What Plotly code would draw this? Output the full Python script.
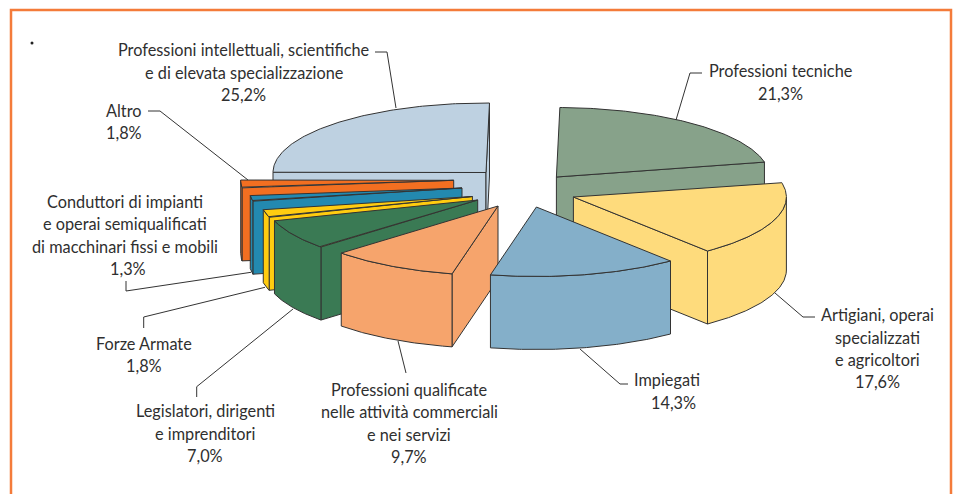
import numpy as np
import plotly.graph_objects as go

# ---- data (clockwise from the top of the pie) ----
categories = [
    "Professioni tecniche",
    "Artigiani, operai<br>specializzati<br>e agricoltori",
    "Impiegati",
    "Professioni qualificate<br>nelle attività commerciali<br>e nei servizi",
    "Legislatori, dirigenti<br>e imprenditori",
    "Forze Armate",
    "Conduttori di impianti<br>e operai semiqualificati<br>di macchinari fissi e mobili",
    "Altro",
    "Professioni intellettuali, scientifiche<br>e di elevata specializzazione",
]
values = [21.3, 17.6, 14.3, 9.7, 7.0, 1.8, 1.3, 1.8, 25.2]
colors = ["#87A28A", "#FEDB7C", "#84AFC9", "#F6A46C", "#3A7A54",
          "#FFCC10", "#2389B0", "#F26F21", "#BED1E1"]

# ---- layout of the exploded 3-D pie ----
start_deg = 0.94
centre = (524.4, 191.0)
rx, ry, depth = 213.0, 69.5, 73.0
pull_x = [32, 49, 12, -26.4, -46.7, -52, -62.4, -70.7, -38.4]
pull_y = [-14, 6, 16, 15, 9, 5.5, -3, -10.7, -18.5]
paint_order = [8, 0, 1, 7, 6, 5, 4, 3, 2]
label_x = [780, 877, 666.5, 409, 205, 143.5, 125, 124, 243.5]
label_y = [81.8, 348.2, 390.8, 422.8, 433.3, 354.3, 234.8, 121.3, 72.3]
pct_dx = [0, 0, 6.5, 0, 0, 0, 2.5, 0, 0]
line_step = 22.4
leaders = [
    ([702, 690, 676], [73, 73, 120]),
    ([815, 803, 775], [317, 317, 293]),
    ([628, 620, 580], [384, 384, 349]),
    ([406, 398], [373, 341]),
    ([196.7, 196.7, 293], [397, 386.7, 309]),
    ([143.7, 143.7, 265], [328, 317, 287.3]),
    ([126, 126, 251], [281, 291, 272.3]),
    ([148, 160, 248], [111, 111, 180]),
    ([375, 387, 396], [52, 52, 108]),
]
FONT = "Lato"
FONT_SIZE = 16.3
TXT = "#2f2f2f"
EDGE = "#333333"

fig = go.Figure()


def face(xs, ys, color):
    fig.add_trace(go.Scatter(
        x=list(xs), y=list(ys), mode="lines", fill="toself", fillcolor=color,
        line=dict(color=EDGE, width=1), hoverinfo="skip", showlegend=False))


edges = start_deg + np.cumsum([0] + values) * 3.6
for i in paint_order:
    a0, a1 = edges[i], edges[i + 1]
    ax, ay = centre[0] + pull_x[i], centre[1] + pull_y[i]
    px = lambda d: ax + rx * np.sin(np.radians(d))
    py = lambda d: ay - ry * np.cos(np.radians(d))

    # radial walls that face the viewer
    for a, visible in ((a0, np.sin(np.radians(a0)) < 0), (a1, np.sin(np.radians(a1)) > 0)):
        if visible:
            face([ax, px(a), px(a), ax, ax],
                 [ay, py(a), py(a) + depth, ay + depth, ay], colors[i])

    # curved outer wall
    lo, hi = max(a0, 90), min(a1, 270)
    if hi > lo:
        t = np.linspace(lo, hi, 80)
        xs = np.concatenate([px(t), px(t[::-1]), px(t[:1])])
        ys = np.concatenate([py(t), py(t[::-1]) + depth, py(t[:1])])
        face(xs, ys, colors[i])

    # top face
    t = np.linspace(a0, a1, 120)
    face(np.concatenate([[ax], px(t), [ax]]),
         np.concatenate([[ay], py(t), [ay]]), colors[i])

# leader lines
for lx, ly in leaders:
    fig.add_trace(go.Scatter(x=lx, y=ly, mode="lines", line=dict(color=EDGE, width=1),
                             hoverinfo="skip", showlegend=False))

# stray dot of the original
fig.add_trace(go.Scatter(x=[32], y=[43], mode="markers",
                         marker=dict(color="#222222", size=3),
                         hoverinfo="skip", showlegend=False))

# labels, one annotation per line so the leading can follow the original
annotations = []
for c, v, x, y, dx in zip(categories, values, label_x, label_y, pct_dx):
    pct = f"{v:.1f}%".replace(".", ",")
    rows = c.split("<br>") + [pct]
    top = y - line_step * (len(rows) - 1) / 2
    for n, row in enumerate(rows):
        annotations.append(dict(
            x=x + (dx if row == pct else 0), y=top + n * line_step,
            xref="x", yref="y", text=row, showarrow=False,
            align="center", xanchor="center", yanchor="middle",
            font=dict(family=FONT, size=FONT_SIZE, color=TXT)))

fig.update_layout(
    width=953, height=494, autosize=False,
    margin=dict(l=0, r=0, t=0, b=0),
    paper_bgcolor="white", plot_bgcolor="white",
    xaxis=dict(range=[0, 953], visible=False, fixedrange=True),
    yaxis=dict(range=[494, 0], visible=False, fixedrange=True),
    annotations=annotations,
    shapes=[dict(type="rect", xref="x", yref="y", x0=11, y0=10, x1=951, y1=520,
                 line=dict(color="#F47B3A", width=2.5), layer="below")],
)
fig.write_html("out.html", config={"displayModeBar": False},
               post_script="document.body.style.margin='0';")
